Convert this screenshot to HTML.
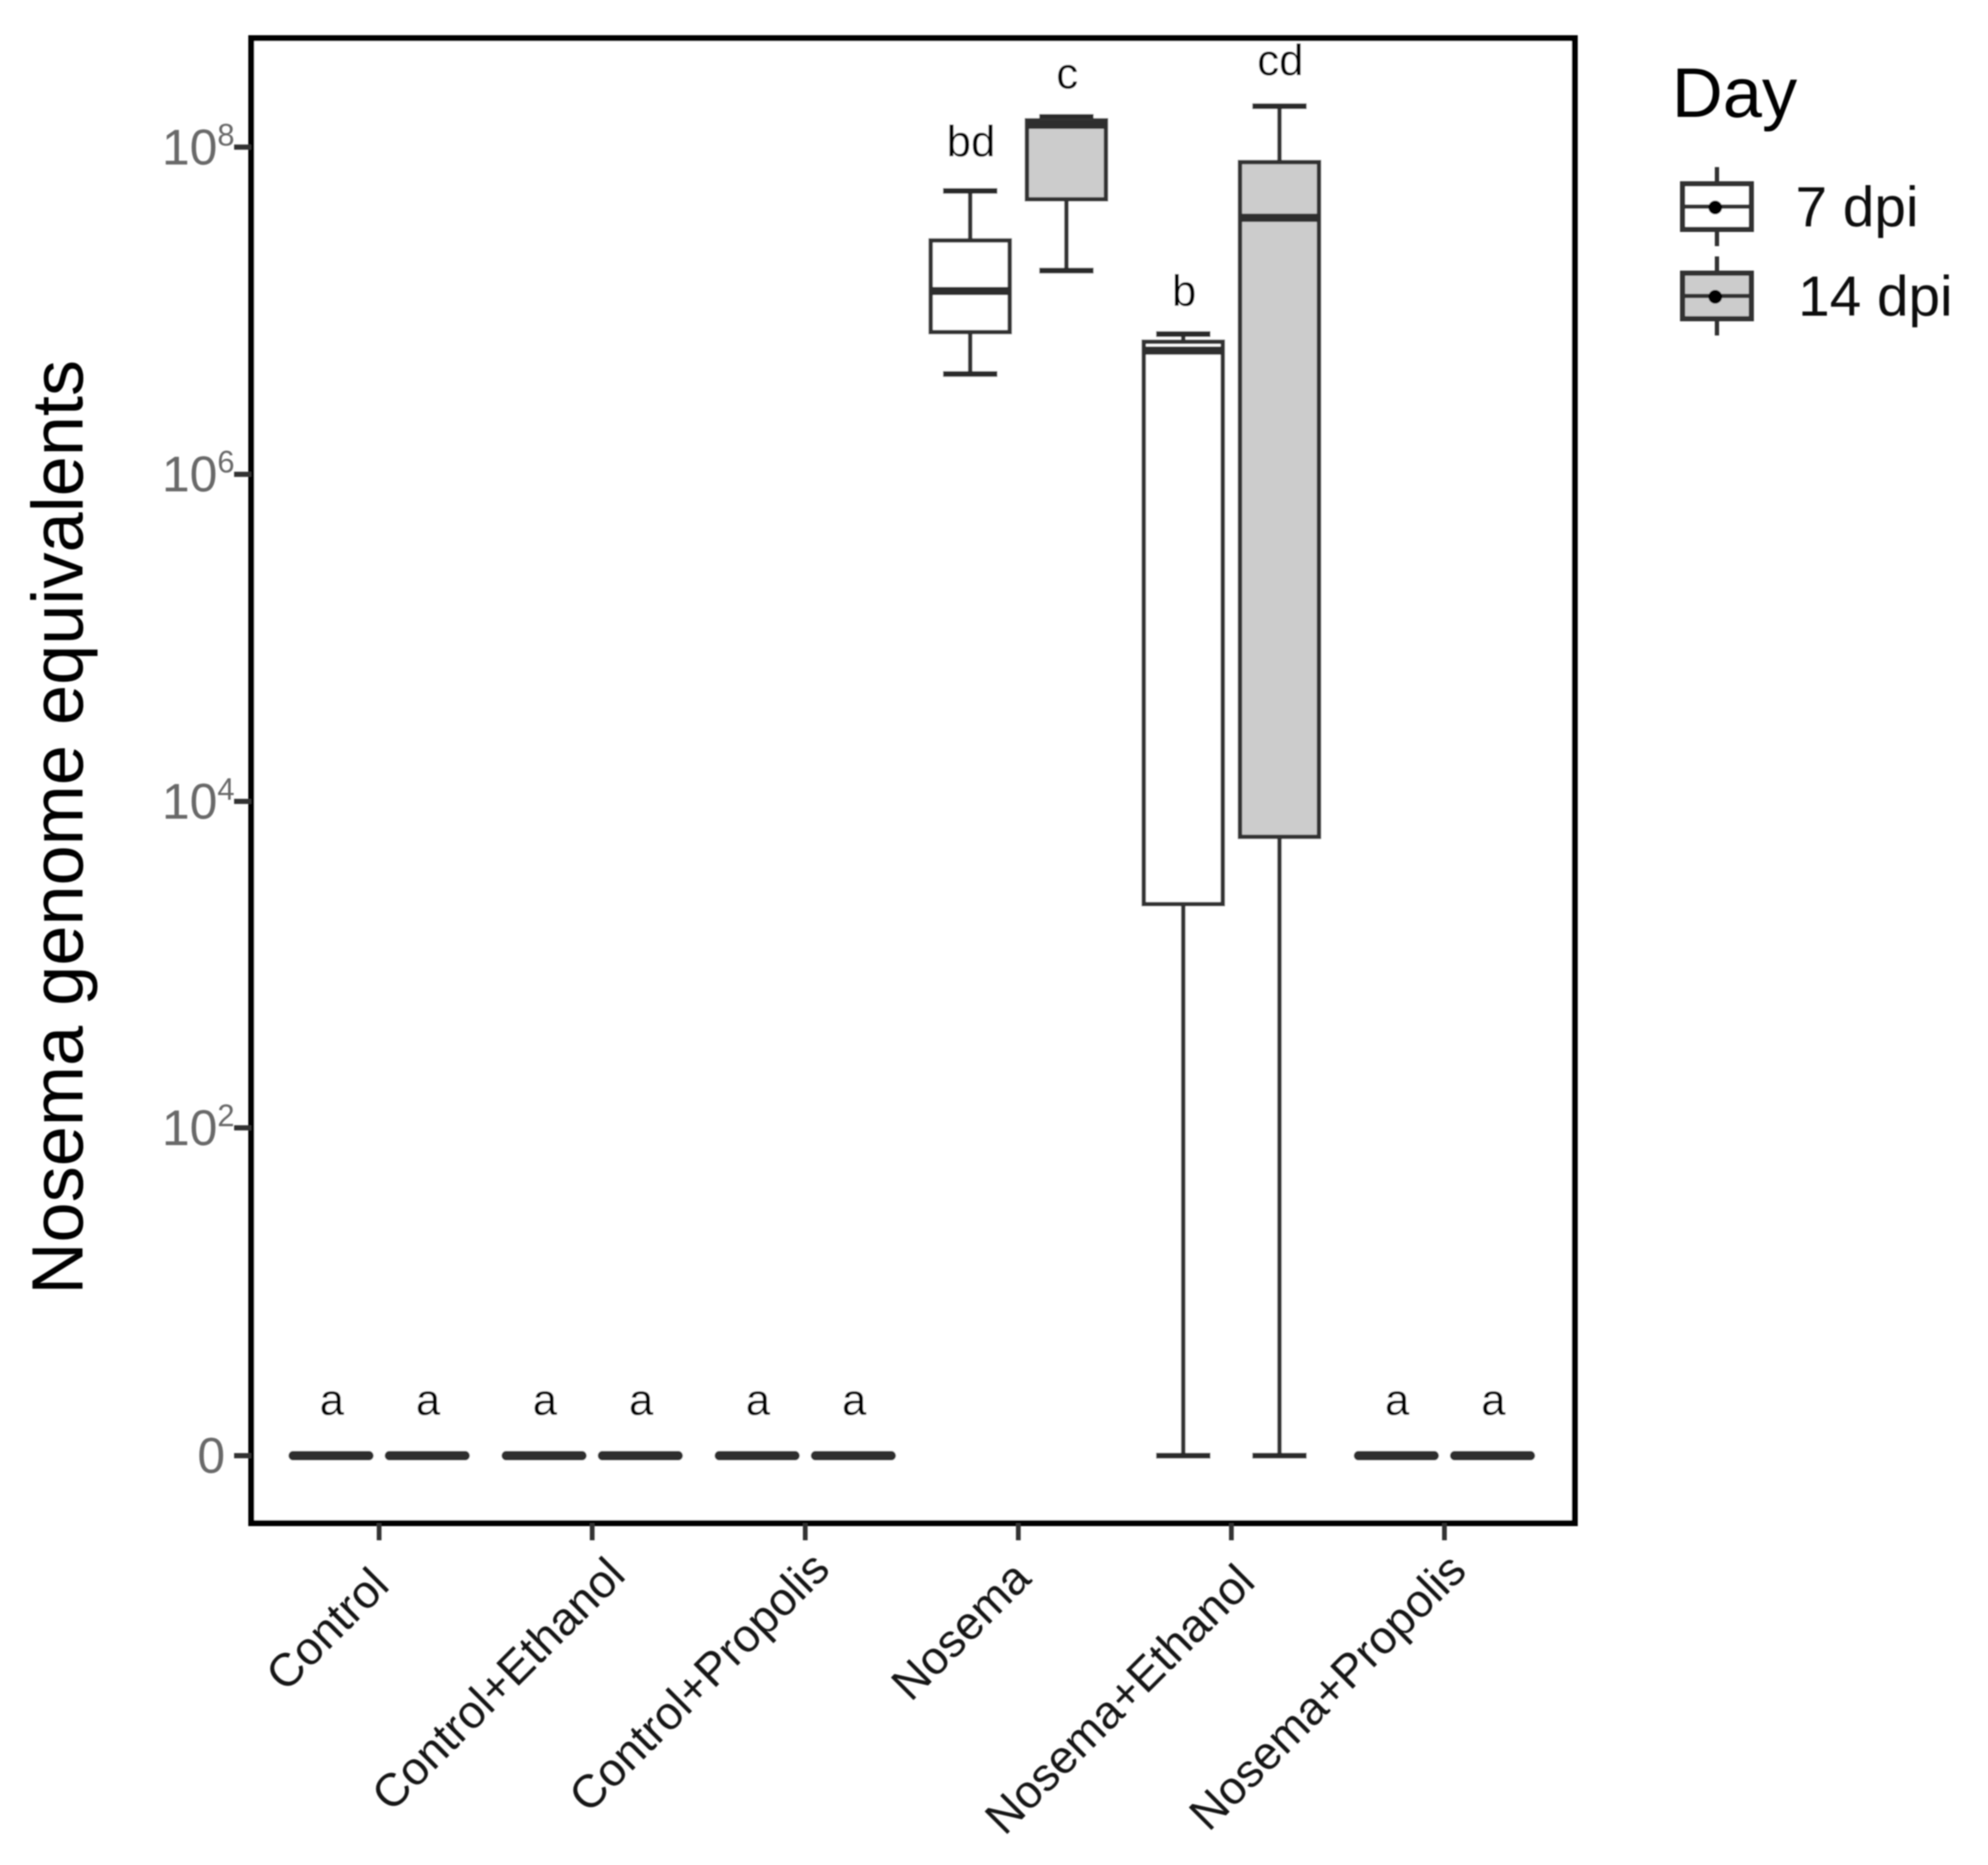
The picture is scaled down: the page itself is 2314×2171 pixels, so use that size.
<!DOCTYPE html>
<html>
<head>
<meta charset="utf-8">
<style>
html,body{margin:0;padding:0;background:#fff;}
#chart{display:block;width:2314px;height:2171px;font-family:"Liberation Sans",sans-serif;}
</style>
</head>
<body>
<svg id="chart" xmlns="http://www.w3.org/2000/svg" width="2314" height="2171" viewBox="0 0 2314 2171">
  <defs>
    <filter id="soft" x="-2%" y="-2%" width="104%" height="104%"><feGaussianBlur stdDeviation="0.9"/></filter>
  </defs>
  <g id="root" filter="url(#soft)"></g>
</svg>
<script>
// ---- chart data ----
var categories = ['Control','Control+Ethanol','Control+Propolis','Nosema','Nosema+Ethanol','Nosema+Propolis'];
var days = ['7 dpi','14 dpi'];
// one entry per box: category order, 7 dpi then 14 dpi
var whiskerLow  = [0,0, 0,0, 0,0, 4.1e6,1.76e7, 0,0, 0,0];
var q1Values    = [0,0, 0,0, 0,0, 7.4e6,4.8e7, 2355,6070, 0,0];
var medianVals  = [0,0, 0,0, 0,0, 1.32e7,1.37e8, 5.7e6,3.7e7, 0,0];
var q3Values    = [0,0, 0,0, 0,0, 2.69e7,1.46e8, 6.46e6,8.1e7, 0,0];
var whiskerHigh = [0,0, 0,0, 0,0, 5.4e7,1.53e8, 7.2e6,1.78e8, 0,0];
var letters     = ['a','a','a','a','a','a','bd','c','b','cd','a','a'];
var letterLevel = [0.25,0.25,0.25,0.25,0.25,0.25,7.944,8.36,7.03,8.44,0.25,0.25];
var yTickValues = [0,1e2,1e4,1e6,1e8];
var yTickExps   = ['','2','4','6','8'];
var fills = ['#ffffff','#cccccc'];

// ---- layout ----
var panel = {l:292.5,r:1833,t:44.5,b:1773};
var INK = '#333333';
function yScale(v){ return 1694.5 - 190.4*Math.log10(v+1); }
function yLevel(l){ return 1694.5 - 190.4*l; }
function xCat(i){ return 441.3 + 248*i; }
function xBox(i){ return xCat(Math.floor(i/2)) + (i%2===0?-56:56); }

var root = document.getElementById('root');
var NS = 'http://www.w3.org/2000/svg';
function add(parent, tag, props, txt){
  var e = document.createElementNS(NS, tag);
  for (var k in props) e.setAttribute(k, props[k]);
  if (txt !== undefined) e.textContent = txt;
  parent.appendChild(e);
  return e;
}
function line(parent,x1,y1,x2,y2,w,c,cap){
  return add(parent,'line',{x1:x1,y1:y1,x2:x2,y2:y2,stroke:c||INK,'stroke-width':w,'stroke-linecap':cap||'butt'});
}

// ---- panel background ----
var bg = add(root,'rect',{x:panel.l,y:panel.t,width:panel.r-panel.l,height:panel.b-panel.t,fill:'#fff'});



// ---- boxes ----
var BW = 92, CW = 63;
medianVals.forEach(function(m,i){
  var x = xBox(i);
  var g = add(root,'g',{});
  
  
  var yHi=yScale(whiskerHigh[i]), yLo=yScale(whiskerLow[i]), yQ3=yScale(q3Values[i]), yQ1=yScale(q1Values[i]), yM=yScale(m);
  if (whiskerHigh[i]===whiskerLow[i]) {
    // degenerate box collapsed on the zero line
    line(g,x-44,yM,x+44,yM,11,'#2e2e2e','round');
    return;
  }
  line(g,x,yHi,x,yQ3,5,INK);
  line(g,x,yQ1,x,yLo,5,INK);
  line(g,x-CW/2,yHi,x+CW/2,yHi,6.5,'#2a2a2a');
  line(g,x-CW/2,yLo,x+CW/2,yLo,6.5,'#2a2a2a');
  add(g,'rect',{x:x-BW/2,y:yQ3,width:BW,height:yQ1-yQ3,fill:fills[i%2],stroke:INK,'stroke-width':5});
  line(g,x-BW/2,yM,x+BW/2,yM,9.5,'#2e2e2e');
});

// ---- significance letters ----
letters.forEach(function(t,i){
  var el = add(root,'text',{x:xBox(i)+1,y:yLevel(letterLevel[i]),'text-anchor':'middle','font-size':51,fill:'#000','font-family':'"Liberation Sans",sans-serif'},t);
  
  
});

// ---- frame ----
var frame = add(root,'rect',{x:panel.l,y:panel.t,width:panel.r-panel.l,height:panel.b-panel.t,fill:'none',stroke:'#000','stroke-width':7});



// ---- y axis ----
yTickValues.forEach(function(v,i){
  var y = yScale(v);
  var tick = line(root,panel.l-20,y,panel.l,y,6,INK);
  
  
  var lab = add(root,'text',{'text-anchor':'end',x:yTickExps[i]?273:262,y:y+20,'font-size':58,fill:'#696969'});
  
  
  if (yTickExps[i]) {
    add(lab,'tspan',{},'10');
    add(lab,'tspan',{dy:-22,'font-size':36},yTickExps[i]);
  } else {
    lab.textContent = '0';
  }
});
var yTitle = add(root,'text',{transform:'translate(96,963) rotate(-90)','text-anchor':'middle','font-size':84,fill:'#000'},'Nosema genome equivalents');



// ---- x axis ----
categories.forEach(function(c,i){
  var x = xCat(i);
  var tick = line(root,x,panel.b,x,panel.b+20,5.5,INK);
  
  
  var nudgeX = {'Control':14,'Control+Ethanol':41,'Control+Propolis':31,'Nosema':17,'Nosema+Ethanol':30,'Nosema+Propolis':28}[c];
  var nudgeY = {'Control':75,'Control+Ethanol':63,'Control+Propolis':56,'Nosema':67,'Nosema+Ethanol':71,'Nosema+Propolis':58}[c];
  var lab = add(root,'text',{transform:'translate('+(x+nudgeX)+','+(panel.b+nudgeY)+') rotate(-45)','text-anchor':'end','font-size':54,fill:'#151515'},c);
  
  
});

// ---- legend ----
var legTitle = add(root,'text',{x:1946,y:136,'font-size':82,fill:'#000'},'Day');


var legendKeyCenters = [240.5,344.5];
days.forEach(function(d,i){
  var cy = legendKeyCenters[i], cx = 1998.5;
  var g = add(root,'g',{});
  
  
  line(g,cx,cy-46,cx,cy+46,5,INK);
  add(g,'rect',{x:cx-40,y:cy-26.5,width:80,height:53,fill:fills[i],stroke:INK,'stroke-width':6});
  line(g,cx-40,cy,cx+40,cy,5,INK);
  add(g,'circle',{cx:cx-2,cy:cy+1,r:8,fill:'#000'});
  add(g,'text',{x:i===0?2090:2093,y:cy+23,'font-size':66,fill:'#111'},d);
});
</script>
</body>
</html>
